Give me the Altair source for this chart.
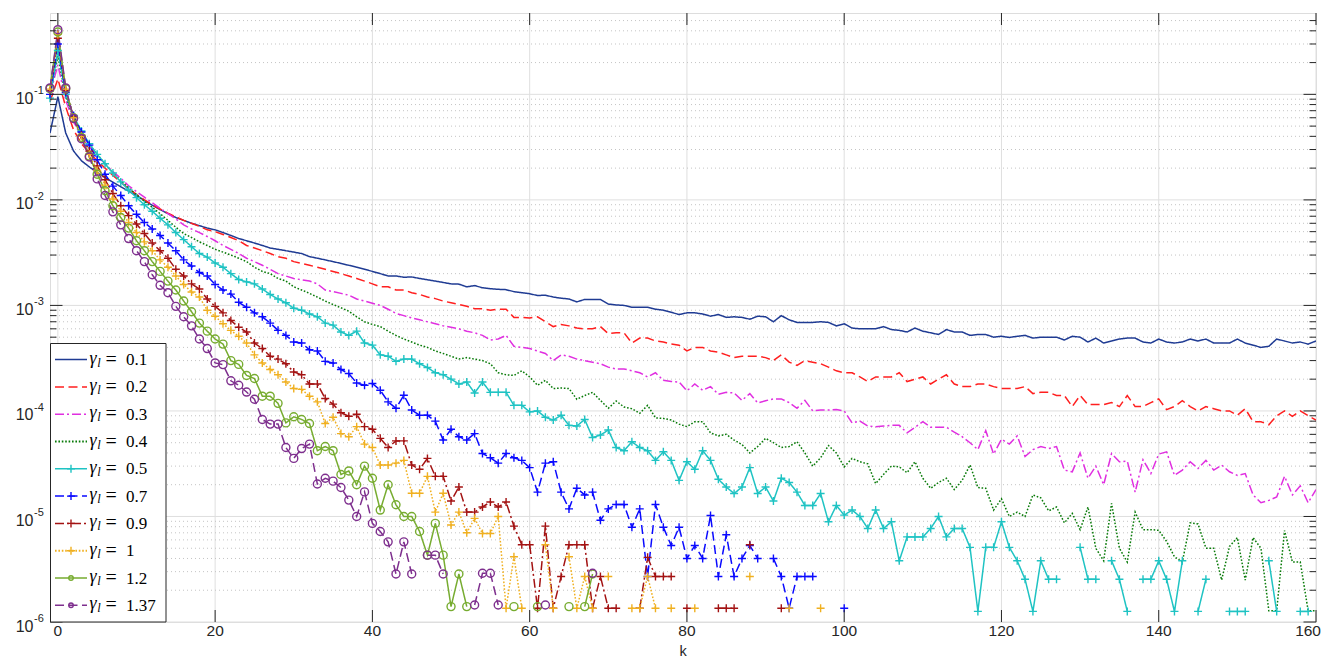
import altair as alt
import pandas as pd

K0 = -1  # first k of every series

names = ["0.1", "0.2", "0.3", "0.4", "0.5", "0.7", "0.9", "1", "1.2", "1.37"]
colors = ["#1f3b93", "#ff1f1f", "#e02fe0", "#087a08", "#1fc3c3",
          "#0a0aff", "#a31212", "#f0b020", "#77ac30", "#7e2f8e"]
dashes = [[1, 0], [9, 4.5], [9, 3, 2, 3], [1.6, 1.8], [1, 0],
          [9, 4.5], [9, 3, 2, 3], [1.6, 1.8], [1, 0], [9, 4.5]]
widths = [1.5, 1.5, 1.5, 2.0, 1.5, 1.5, 1.5, 2.0, 1.5, 1.5]
markers = [None, None, None, None, "plus", "plus", "plus", "plus", "circle", "circle"]

x_ticks = [0, 20, 40, 60, 80, 100, 120, 140, 160]
x_labels = ["0", "20", "40", "60", "80", "100", "120", "140", "160"]
y_major = [1e-6, 1e-5, 1e-4, 1e-3, 1e-2, 1e-1]
y_exps = ["-6", "-5", "-4", "-3", "-2", "-1"]

g01 = [
    0.043, 0.095, 0.043, 0.029, 0.0235, 0.0205, 0.0182, 0.0163, 0.0147, 0.0133,
    0.0121, 0.011, 0.0099, 0.0089, 0.0081, 0.0074, 0.0068, 0.0064, 0.006, 0.0057,
    0.0054, 0.0052, 0.0049, 0.0046, 0.0043, 0.0041, 0.0039, 0.0037, 0.0035, 0.0034,
    0.0033, 0.0032, 0.0031, 0.0029, 0.0028, 0.0027, 0.0026, 0.0025, 0.0024, 0.0023,
    0.0022, 0.0021, 0.002, 0.0019, 0.0019, 0.00185, 0.00186, 0.0018, 0.00175, 0.0017,
    0.00165, 0.0016, 0.00159, 0.0015, 0.00154, 0.00147, 0.00144, 0.00142, 0.00141, 0.00135,
    0.00132, 0.00129, 0.00124, 0.00125, 0.0012, 0.00117, 0.00115, 0.00108, 0.00114, 0.00114,
    0.00114, 0.00103, 0.00101, 0.001, 0.00096, 0.00096, 0.00096, 0.00092, 0.0009, 0.00086,
    0.00082, 0.00085, 0.00085, 0.00083, 0.00079, 0.00082, 0.00077, 0.00078, 0.00077, 0.00074,
    0.00079, 0.00078, 0.0007, 0.0008, 0.00073, 0.00069, 0.00069, 0.00069, 0.0007, 0.00069,
    0.00064, 0.00067, 0.00061, 0.0006, 0.0006, 0.0006, 0.00063, 0.00059, 0.00058, 0.00056,
    0.00061, 0.00057, 0.00055, 0.00053, 0.00059, 0.00056, 0.00056, 0.00052, 0.00053, 0.00053,
    0.0005, 0.00051, 0.000497, 0.00051, 0.00052, 0.00049, 0.0005, 0.0005, 0.0005, 0.00047,
    0.00051, 0.0005, 0.00045, 0.00049, 0.00044, 0.00046, 0.00048, 0.00049, 0.00049, 0.00045,
    0.00044, 0.00048, 0.00045, 0.00044, 0.00045, 0.00048, 0.00046, 0.00048, 0.00044, 0.00044,
    0.00044, 0.00048, 0.00044, 0.00042, 0.0004, 0.00041, 0.00048, 0.00046, 0.00044, 0.00045,
    0.00043, 0.00046,
]

g02 = [
    0.085, 0.14, 0.076, 0.046, 0.034, 0.028, 0.0235, 0.02, 0.017, 0.0147,
    0.0128, 0.0113, 0.01, 0.009, 0.0082, 0.0075, 0.0069, 0.0064, 0.006, 0.0056,
    0.0052, 0.005, 0.0047, 0.0044, 0.0041, 0.0037, 0.0035, 0.0033, 0.0031, 0.0029,
    0.0028, 0.0026, 0.0025, 0.0024, 0.0023, 0.0022, 0.0021, 0.002, 0.0019, 0.0018,
    0.0017, 0.0016, 0.0015, 0.0015, 0.0014, 0.0014, 0.00132, 0.00127, 0.0012, 0.00116,
    0.0011, 0.00106, 0.00102, 0.00098, 0.00093, 0.00093, 0.0009, 0.00092, 0.00092, 0.00077,
    0.00077, 0.00076, 0.00078, 0.0007, 0.00063, 0.00066, 0.00064, 0.00061, 0.0006, 0.0006,
    0.00063, 0.00054, 0.00055, 0.00055, 0.00044, 0.00049, 0.00049, 0.00046, 0.00045, 0.00043,
    0.00042, 0.00037, 0.0004, 0.0004, 0.00037, 0.00036, 0.00034, 0.00032, 0.00033, 0.00033,
    0.00033, 0.00032, 0.0003, 0.00034, 0.00029, 0.00027, 0.0003, 0.00029, 0.00028, 0.00026,
    0.00024, 0.00023, 0.00023, 0.00021, 0.00019, 0.00021, 0.00021, 0.00021, 0.00023, 0.00019,
    0.0002, 0.00021, 0.00018, 0.0002, 0.00022, 0.00018, 0.00017, 0.00017, 0.00018, 0.00018,
    0.00017, 0.000163, 0.000163, 0.000163, 0.00017, 0.000146, 0.00015, 0.00015, 0.00014, 0.00014,
    0.00011, 0.00014, 0.000115, 0.000115, 0.000115, 0.00012, 0.00011, 0.00014, 0.00011, 0.00011,
    0.00012, 0.00013, 0.000103, 0.00011, 0.000125, 0.00011, 0.0001, 0.00011, 0.000105, 0.0001,
    0.0001, 9.1e-5, 0.000105, 7.9e-5, 7.9e-5, 7.4e-5, 9.0e-5, 0.0001, 8.9e-5, 0.0001,
    9.0e-5, 8.2e-5,
]

g03 = [
    0.1, 0.19, 0.088, 0.055, 0.04, 0.032, 0.026, 0.022, 0.0185, 0.016,
    0.0136, 0.012, 0.0106, 0.0094, 0.0083, 0.0074, 0.0066, 0.0058, 0.0053, 0.0049,
    0.0045, 0.0041, 0.0037, 0.0034, 0.0031, 0.0028, 0.0026, 0.0024, 0.0022, 0.002,
    0.0019, 0.0018, 0.00175, 0.0017, 0.0016, 0.0014, 0.00135, 0.0013, 0.00125, 0.00115,
    0.0011, 0.00105, 0.001, 0.00092, 0.00084, 0.0008, 0.00076, 0.00073, 0.0007, 0.00067,
    0.00064, 0.00062, 0.0006, 0.00057, 0.00055, 0.00052, 0.00047, 0.00048, 0.00052, 0.00041,
    0.0004, 0.00039, 0.00037, 0.00035, 0.0003, 0.00034, 0.00033, 0.00031, 0.0003, 0.00029,
    0.00028, 0.00026, 0.00025, 0.00025, 0.00024, 0.00023, 0.00021, 0.00023, 0.000195, 0.00019,
    0.000188, 0.000155, 0.00018, 0.000157, 0.00017, 0.000144, 0.00015, 0.000148, 0.000126, 0.000146,
    0.000119, 0.000125, 0.00013, 0.00013, 0.00012, 0.000106, 0.000126, 0.0001, 0.000102, 0.000102,
    0.000103, 0.0001, 7.7e-5, 8.0e-5, 7.2e-5, 7.1e-5, 7.2e-5, 7.3e-5, 7.3e-5, 6.2e-5,
    7.0e-5, 7.9e-5, 7.0e-5, 7.0e-5, 7.0e-5, 6.3e-5, 5.7e-5, 5.0e-5, 4.3e-5, 6.5e-5,
    3.9e-5, 5.4e-5, 4.85e-5, 5.8e-5, 3.7e-5, 4.3e-5, 4.6e-5, 4.4e-5, 4.6e-5, 2.75e-5,
    2.65e-5, 4.0e-5, 2.3e-5, 3.0e-5, 2.0e-5, 3.95e-5, 3.3e-5, 3.35e-5, 1.7e-5, 3.45e-5,
    2.55e-5, 3.9e-5, 4.1e-5, 2.45e-5, 2.75e-5, 3.3e-5, 2.85e-5, 3.4e-5, 2.75e-5, 3.07e-5,
    2.65e-5, 2.45e-5, 2.55e-5, 1.6e-5, 1.35e-5, 1.42e-5, 1.53e-5, 2.4e-5, 1.6e-5, 1.95e-5,
    1.35e-5, 1.8e-5,
]

g04 = [
    0.1, 0.23, 0.095, 0.06, 0.043, 0.034, 0.027, 0.022, 0.018, 0.0152,
    0.013, 0.0112, 0.0097, 0.0085, 0.0074, 0.0064, 0.0055, 0.0048, 0.0044, 0.004,
    0.0037, 0.0034, 0.0032, 0.003, 0.0028, 0.0026, 0.0023, 0.0021, 0.002, 0.0018,
    0.0017, 0.0015, 0.0014, 0.0013, 0.0012, 0.0011, 0.00102, 0.00095, 0.00088, 0.00078,
    0.0007, 0.00066, 0.00063, 0.00057, 0.00052, 0.00048, 0.00045, 0.00042, 0.0004, 0.00037,
    0.00035, 0.00033, 0.00031, 0.00032, 0.00031, 0.0003, 0.00028, 0.00023, 0.00022, 0.000217,
    0.00024, 0.00021, 0.000175, 0.000195, 0.000163, 0.000165, 0.000163, 0.000129, 0.00014, 0.00015,
    0.000126, 0.000106, 0.000124, 0.000109, 0.000105, 9.5e-5, 0.000113, 8.6e-5, 8.5e-5, 8.2e-5,
    7.5e-5, 7.1e-5, 7.9e-5, 7.9e-5, 6.2e-5, 5.8e-5, 6.0e-5, 5.3e-5, 4.8e-5, 4.0e-5,
    4.6e-5, 5.5e-5, 5.0e-5, 4.5e-5, 4.6e-5, 5.1e-5, 4.0e-5, 3.0e-5, 3.6e-5, 4.7e-5,
    4.0e-5, 2.95e-5, 3.55e-5, 3.3e-5, 3.15e-5, 2.05e-5, 2.5e-5, 3.0e-5, 2.95e-5, 2.6e-5,
    3.3e-5, 2.3e-5, 1.85e-5, 2.1e-5, 2.3e-5, 1.8e-5, 2.2e-5, 3.07e-5, 1.88e-5, 1.85e-5,
    1.15e-5, 1.47e-5, 1.0e-5, 1.1e-5, 1.0e-5, 1.6e-5, 1.5e-5, 1.13e-5, 1.23e-5, 8.7e-6,
    1.07e-5, 7.5e-6, 1.23e-5, 5.0e-6, 3.8e-6, 1.33e-5, 5.0e-6, 3.7e-6, 1.1e-5, 7.5e-6,
    7.5e-6, 7.4e-6, 5.8e-6, 4.15e-6, 3.7e-6, 8.7e-6, 8.5e-6, 5.0e-6, 5.0e-6, 2.5e-6,
    5.2e-6, 6.3e-6, 2.5e-6, 6.3e-6, 5.0e-6, 1.28e-6, 1.28e-6, 7.35e-6, 3.7e-6, 3.7e-6,
    1.28e-6, 1.28e-6,
]

g05 = [
    0.092, 0.26, 0.1, 0.062, 0.045, 0.034, 0.027, 0.022, 0.018, 0.0148,
    0.0124, 0.0105, 0.009, 0.0078, 0.0067, 0.0058, 0.0049, 0.0042, 0.0036, 0.0031,
    0.00287, 0.00252, 0.0023, 0.002, 0.00176, 0.00167, 0.0016, 0.00143, 0.00127, 0.00115,
    0.00106, 0.00094, 0.0009, 0.00083, 0.00078, 0.00068, 0.00065, 0.00056, 0.00052, 0.00057,
    0.00044, 0.00042, 0.00034, 0.00033, 0.000295, 0.00031, 0.00031, 0.00028, 0.000258, 0.00023,
    0.00022, 0.0002, 0.00018, 0.000188, 0.000148, 0.000188, 0.00015, 0.00015, 0.00015, 0.000113,
    0.000113, 9.8e-5, 0.0001, 8.7e-5, 8.2e-5, 9.1e-5, 7.3e-5, 7.2e-5, 8.3e-5, 5.6e-5,
    5.9e-5, 6.6e-5, 4.5e-5, 4.2e-5, 5.1e-5, 4.5e-5, 4.2e-5, 3.4e-5, 4.1e-5, 3.4e-5,
    2.2e-5, 3.3e-5, 2.8e-5, 4.2e-5, 3.4e-5, 2.25e-5, 1.9e-5, 1.65e-5, 1.9e-5, 2.9e-5,
    1.65e-5, 1.9e-5, 1.4e-5, 2.3e-5, 2.1e-5, 1.7e-5, 1.27e-5, 1.27e-5, 1.65e-5, 8.9e-6,
    1.27e-5, 1.03e-5, 1.15e-5, 1.0e-5, 7.7e-6, 1.15e-5, 7.7e-6, 8.9e-6, 3.8e-6, 6.4e-6,
    6.4e-6, 6.4e-6, 7.7e-6, 1.0e-5, 6.4e-6, 7.7e-6, 7.7e-6, 5.1e-6, 1.26e-6, 5.1e-6,
    5.1e-6, 8.9e-6, 5.1e-6, 3.8e-6, 2.54e-6, 1.26e-6, 3.8e-6, 2.54e-6, 2.54e-6, None,
    None, 5.1e-6, 2.54e-6, 2.54e-6, None, 3.8e-6, 2.54e-6, 1.26e-6, None, 2.54e-6,
    2.54e-6, 3.8e-6, 2.54e-6, 1.26e-6, 3.8e-6, None, 1.26e-6, 2.54e-6, None, None,
    1.26e-6, 1.26e-6, 1.26e-6, None, None, 3.8e-6, 1.26e-6, None, None, 1.26e-6,
    1.26e-6, None,
]

g07 = [
    0.1, 0.30, 0.104, 0.063, 0.044, 0.033, 0.024, 0.0175, 0.0135, 0.011,
    0.0088, 0.0073, 0.0061, 0.0053, 0.0046, 0.0039, 0.0033, 0.0027, 0.00236, 0.00205,
    0.0019, 0.00158, 0.0014, 0.00128, 0.00107, 0.00096, 0.00085, 0.00078, 0.00068, 0.00058,
    0.00052, 0.00045, 0.00044, 0.00038, 0.00037, 0.000295, 0.000285, 0.000247, 0.000226, 0.000184,
    0.000175, 0.000182, 0.000157, 0.000122, 0.000106, 0.000141, 0.000102, 9.1e-5, 9.1e-5, 8.0e-5,
    5.3e-5, 6.7e-5, 5.7e-5, 5.3e-5, 6.1e-5, 3.95e-5, 3.6e-5, 3.2e-5, 3.95e-5, 3.6e-5,
    3.4e-5, 2.9e-5, 1.7e-5, 3.2e-5, 3.3e-5, 1.7e-5, 1.18e-5, 1.85e-5, 1.6e-5, 1.7e-5,
    9.2e-6, 1.18e-5, 1.3e-5, 1.3e-5, 7.9e-6, 1.18e-5, 2.7e-6, 1.3e-5, 7.9e-6, 5.3e-6,
    7.9e-6, 4.0e-6, 5.3e-6, 4.0e-6, 1.02e-5, 2.7e-6, 6.7e-6, 2.7e-6, 4.0e-6, 5.3e-6,
    4.0e-6, None, 4.0e-6, 2.7e-6, 1.35e-6, 2.7e-6, 2.7e-6, 2.7e-6, None, None,
    None, 1.35e-6,
]

g09 = [
    0.108, 0.34, 0.108, 0.061, 0.041, 0.029, 0.021, 0.0155, 0.0115, 0.0088,
    0.0071, 0.0059, 0.0048, 0.0039, 0.0033, 0.0028, 0.0022, 0.0019, 0.0016, 0.00143,
    0.00115, 0.00098, 0.00085, 0.00072, 0.00062, 0.00056, 0.00044, 0.00039, 0.00033, 0.00031,
    0.00028, 0.000234, 0.00022, 0.00018, 0.00018, 0.000131, 0.000116, 9.6e-5, 8.9e-5, 9.3e-5,
    7.1e-5, 6.7e-5, 5.5e-5, 4.5e-5, 5.2e-5, 5.2e-5, 3.07e-5, 2.8e-5, 3.55e-5, 2.4e-5,
    2.4e-5, 1.4e-5, 1.9e-5, 1.1e-5, 1.1e-5, 1.23e-5, 1.37e-5, 1.23e-5, 1.37e-5, 8.1e-6,
    5.4e-6, 5.4e-6, 1.35e-6, 8.1e-6, 1.35e-6, 2.7e-6, 5.4e-6, 5.4e-6, 5.4e-6, 1.35e-6,
    2.7e-6, 1.35e-6, 1.35e-6, None, None, 1.35e-6, 4.1e-6, 2.7e-6, 2.7e-6, 2.7e-6,
    None, 1.35e-6, None, None, None, 1.35e-6, 1.35e-6, 1.35e-6, None, 5.4e-6,
    None, None, None, 1.35e-6,
]

g10 = [
    0.112, 0.37, 0.112, 0.06, 0.04, 0.027, 0.019, 0.0138, 0.0102, 0.0078,
    0.0061, 0.0049, 0.004, 0.0033, 0.0027, 0.0023, 0.0019, 0.00158, 0.00134, 0.0012,
    0.0009, 0.00079, 0.00067, 0.00058, 0.00051, 0.00044, 0.00034, 0.000285, 0.000247, 0.00022,
    0.000188, 0.000163, 0.00016, 0.000138, 0.000122, 7.6e-5, 8.7e-5, 6.1e-5, 5.7e-5, 7.1e-5,
    4.85e-5, 4.5e-5, 3.07e-5, 3.07e-5, 3.2e-5, 3.4e-5, 1.66e-5, 1.66e-5, 2.4e-5, 1.1e-5,
    1.66e-5, 8.3e-6, 1.1e-5, 7.0e-6, 9.6e-6, 6.9e-6, 6.9e-6, 1.0e-5, 1.35e-6, 4.15e-6,
    1.35e-6, None, None, 5.4e-6, 1.35e-6, None, 4.15e-6, 1.35e-6, 2.7e-6, 1.35e-6,
    None, 2.7e-6, None, None, 1.35e-6, 1.35e-6, 2.7e-6, 1.35e-6, None, 1.35e-6,
    None, None, 1.35e-6, None, None, None, None, None, None, 2.7e-6,
    None, None, None, None, 1.35e-6, None, None, None, 1.35e-6,
]

g12 = [
    0.113, 0.39, 0.113, 0.06, 0.039, 0.026, 0.0175, 0.0122, 0.0088, 0.0068,
    0.0054, 0.0041, 0.0033, 0.0026, 0.0021, 0.0017, 0.0014, 0.0011, 0.00087, 0.00068,
    0.00057, 0.00048, 0.00043, 0.0003, 0.000276, 0.000217, 0.000203, 0.000138, 0.000138, 0.000118,
    7.7e-5, 8.8e-5, 8.3e-5, 7.6e-5, 4.2e-5, 4.6e-5, 4.2e-5, 2.5e-5, 2.7e-5, 2.0e-5,
    3.0e-5, 2.3e-5, 1.15e-5, 2.0e-5, 1.29e-5, 1.0e-5, 1.0e-5, 7.2e-6, 4.3e-6, 8.6e-6,
    4.3e-6, 1.4e-6, 2.85e-6, 1.4e-6, None, None, None, None, None, 1.4e-6,
    None, None, 1.4e-6, None, None, None, 1.4e-6, None, 1.4e-6, 2.85e-6,
]

g137 = [
    0.115, 0.41, 0.115, 0.059, 0.038, 0.0255, 0.0158, 0.011, 0.0077, 0.0058,
    0.0043, 0.0033, 0.0026, 0.00195, 0.00155, 0.00132, 0.00098, 0.00078, 0.00064, 0.00048,
    0.00039, 0.000285, 0.000275, 0.000193, 0.000175, 0.000151, 0.000129, 8.3e-5, 7.5e-5, 7.5e-5,
    4.5e-5, 3.55e-5, 4.4e-5, 4.85e-5, 2.03e-5, 2.3e-5, 2.16e-5, 1.88e-5, 1.43e-5, 1.0e-5,
    1.71e-5, 8.6e-6, 7.2e-6, 5.75e-6, 2.85e-6, 5.75e-6, 2.85e-6, None, 4.3e-6, 4.3e-6,
    2.85e-6, None, None, None, 1.45e-6, 2.9e-6, 2.9e-6, 1.45e-6, None, None,
    None, None, None, 1.45e-6, None, None, None, None, None, 2.9e-6,
]

all_series = [g01, g02, g03, g04, g05, g07, g09, g10, g12, g137]

# ---------------------------------------------------------------- layout
W, H = 1266, 609
FONT = "Liberation Sans"
AX = "#262626"
PLUS = "M-1,0L1,0M0,-1L0,1"
shape_of = {"plus": PLUS, "circle": "circle"}
size_of = {"plus": 64, "circle": 20}

rows = []
for name, vals in zip(names, all_series):
    for i, v in enumerate(vals):
        rows.append({"k": K0 + i, "v": v, "s": name})
df = pd.DataFrame(rows)

mnames = [n for n, m in zip(names, markers) if m]
dfm = df[df["s"].isin(mnames)]

xscale = alt.Scale(domain=[-1, 160], nice=False, zero=False)
yscale = alt.Scale(type="log", domain=[1e-6, 0.59], nice=False)
cscale = alt.Scale(domain=names, range=colors)

y_minor = [m * d for d in y_major for m in range(2, 10) if m * d < 0.59]

grid_x = alt.Chart(pd.DataFrame({"t": x_ticks})).mark_rule(
    color="#dfdfdf", strokeWidth=1).encode(
    x=alt.X("t:Q", scale=xscale, axis=None))
grid_ymaj = alt.Chart(pd.DataFrame({"t": y_major})).mark_rule(
    color="#dfdfdf", strokeWidth=1).encode(
    y=alt.Y("t:Q", scale=yscale, axis=None))
grid_ymin = alt.Chart(pd.DataFrame({"t": y_minor})).mark_rule(
    color="#c4c4c4", strokeWidth=1, strokeDash=[1, 3]).encode(
    y=alt.Y("t:Q", scale=yscale, axis=None))

lines = alt.Chart(df).mark_line(
    invalid="break-paths-filter-domains", clip=True).encode(
    x=alt.X("k:Q", scale=xscale, axis=None),
    y=alt.Y("v:Q", scale=yscale, axis=None),
    color=alt.Color("s:N", scale=cscale, legend=None),
    strokeDash=alt.StrokeDash("s:N", scale=alt.Scale(domain=names, range=dashes), legend=None),
    strokeWidth=alt.StrokeWidth("s:N", scale=alt.Scale(domain=names, range=widths), legend=None),
)

points = alt.Chart(dfm).mark_point(filled=False, strokeWidth=1.4, opacity=1).encode(
    x=alt.X("k:Q", scale=xscale, axis=None),
    y=alt.Y("v:Q", scale=yscale, axis=None),
    color=alt.Color("s:N", scale=cscale, legend=None),
    shape=alt.Shape("s:N", scale=alt.Scale(
        domain=mnames, range=[shape_of[m] for m in markers if m]), legend=None),
    size=alt.Size("s:N", scale=alt.Scale(
        domain=mnames, range=[size_of[m] for m in markers if m]), legend=None),
)

xt = pd.DataFrame({"t": x_ticks, "lab": x_labels})
ymj = pd.DataFrame({"t": y_major})
ymn = pd.DataFrame({"t": y_minor})
tick_layers = [
    alt.Chart(xt).mark_rule(color=AX, strokeWidth=1).encode(
        x=alt.X("t:Q", scale=xscale, axis=None), y=alt.value(H), y2=alt.value(H - 12)),
    alt.Chart(xt).mark_rule(color=AX, strokeWidth=1).encode(
        x=alt.X("t:Q", scale=xscale, axis=None), y=alt.value(0), y2=alt.value(12)),
    alt.Chart(ymj).mark_rule(color=AX, strokeWidth=1).encode(
        y=alt.Y("t:Q", scale=yscale, axis=None), x=alt.value(0), x2=alt.value(12.5)),
    alt.Chart(ymj).mark_rule(color=AX, strokeWidth=1).encode(
        y=alt.Y("t:Q", scale=yscale, axis=None), x=alt.value(W), x2=alt.value(W - 12.5)),
    alt.Chart(ymn).mark_rule(color=AX, strokeWidth=1).encode(
        y=alt.Y("t:Q", scale=yscale, axis=None), x=alt.value(0), x2=alt.value(6.5)),
    alt.Chart(ymn).mark_rule(color=AX, strokeWidth=1).encode(
        y=alt.Y("t:Q", scale=yscale, axis=None), x=alt.value(W), x2=alt.value(W - 6.5)),
]

# x tick labels and title drawn as text (last label nudged to stay inside the canvas)
xt_inner = xt.iloc[:-1]
xt_last = xt.iloc[-1:]
xlab_layers = [
    alt.Chart(xt_inner).mark_text(align="center", baseline="top", font=FONT,
                                  fontSize=15.5, color=AX).encode(
        x=alt.X("t:Q", scale=xscale, axis=None), y=alt.value(H + 1.5), text="lab:N"),
    alt.Chart(xt_last).mark_text(align="right", baseline="top", font=FONT,
                                 fontSize=15.5, color=AX, dx=5).encode(
        x=alt.X("t:Q", scale=xscale, axis=None), y=alt.value(H + 1.5), text="lab:N"),
    alt.Chart(pd.DataFrame({"title": ["k"]})).mark_text(
        align="center", baseline="bottom", font=FONT, fontSize=14.5, color=AX).encode(
        x=alt.value(W / 2), y=alt.value(H + 36.5), text="title:N"),
]

ylab = pd.DataFrame({"v": y_major, "base": ["10"] * len(y_major), "exp": y_exps})
ylab_layers = [
    alt.Chart(ylab).mark_text(align="right", baseline="middle", font=FONT,
                              fontSize=16, color=AX, dy=4.5).encode(
        x=alt.value(-16.5), y=alt.Y("v:Q", scale=yscale, axis=None), text="base:N"),
    alt.Chart(ylab).mark_text(align="left", baseline="middle", font=FONT,
                              fontSize=11, color=AX, dy=-3).encode(
        x=alt.value(-16), y=alt.Y("v:Q", scale=yscale, axis=None), text="exp:N"),
]

# ---------------------------------------------------------------- legend
LEG_Y0, LEG_DY = 346.6, 27.3
SERIF = "Liberation Serif"
leg_layers = [
    alt.Chart(pd.DataFrame({"a": [0]})).mark_rect(
        fill="white", stroke=AX, strokeWidth=1).encode(
        x=alt.value(0.5), x2=alt.value(116), y=alt.value(330.5), y2=alt.value(H))
]
for i, name in enumerate(names):
    yy = LEG_Y0 + i * LEG_DY
    one = pd.DataFrame({"lab": [name]})
    leg_layers.append(alt.Chart(one).mark_rule(
        color=colors[i], strokeDash=dashes[i], strokeWidth=widths[i]).encode(
        x=alt.value(5), x2=alt.value(37), y=alt.value(yy)))
    if markers[i]:
        leg_layers.append(alt.Chart(one).mark_point(
            shape=shape_of[markers[i]], filled=False, color=colors[i],
            size=size_of[markers[i]], strokeWidth=1.4, opacity=1).encode(
            x=alt.value(21), y=alt.value(yy)))
    leg_layers.append(alt.Chart(one).mark_text(
        text="γ", font=SERIF, fontStyle="italic", fontSize=18, align="left",
        baseline="alphabetic", color="black").encode(x=alt.value(39.5), y=alt.value(yy + 4)))
    leg_layers.append(alt.Chart(one).mark_text(
        text="l", font=SERIF, fontStyle="italic", fontSize=12.5, align="left",
        baseline="alphabetic", color="black").encode(x=alt.value(47.3), y=alt.value(yy + 7)))
    leg_layers.append(alt.Chart(one).mark_text(
        text="=", font=SERIF, fontSize=20, align="left",
        baseline="alphabetic", color="black").encode(x=alt.value(55.5), y=alt.value(yy + 6)))
    leg_layers.append(alt.Chart(one).mark_text(
        font=SERIF, fontSize=17, align="left",
        baseline="alphabetic", color="black").encode(
        x=alt.value(76), y=alt.value(yy + 5.5), text="lab:N"))

chart = alt.layer(
    grid_x, grid_ymaj, grid_ymin, lines, points,
    *tick_layers, *leg_layers, *ylab_layers, *xlab_layers
).properties(
    width=W, height=H,
    autosize=alt.AutoSizeParams(type="none"),
    padding={"left": 42, "top": 5, "right": 6, "bottom": 44},
).configure_view(
    stroke=AX, strokeWidth=1
).configure(background="white")

chart.save("out.html", embed_options={"renderer": "svg", "actions": False})
